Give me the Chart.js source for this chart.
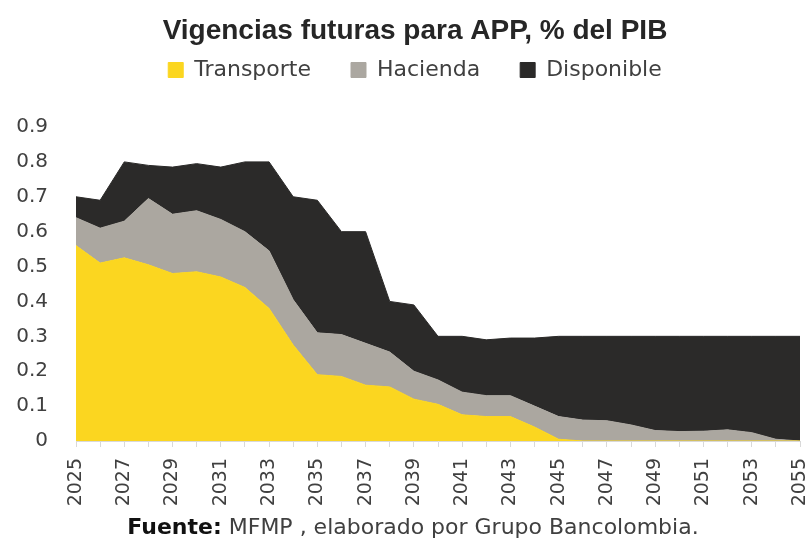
<!DOCTYPE html>
<html lang="es">
<head>
<meta charset="utf-8">
<title>Vigencias futuras para APP, % del PIB</title>
<script src="https://cdn.jsdelivr.net/npm/chart.js@4.4.1/dist/chart.umd.min.js"></script>
<style>
  html, body { margin: 0; padding: 0; background: #fff; }
  #wrap { width: 810px; height: 540px; }
</style>
</head>
<body>
<div id="wrap"><canvas id="appChart" width="810" height="540"></canvas></div>
<script>
const years = ["2025", "2026", "2027", "2028", "2029", "2030", "2031", "2032", "2033", "2034",
  "2035", "2036", "2037", "2038", "2039", "2040", "2041", "2042", "2043", "2044",
  "2045", "2046", "2047", "2048", "2049", "2050", "2051", "2052", "2053", "2054", "2055"];

// % del PIB
const transporte = [0.56, 0.51, 0.525, 0.505, 0.48, 0.485, 0.47, 0.44, 0.38, 0.275,
  0.19, 0.185, 0.16, 0.155, 0.12, 0.105, 0.075, 0.07, 0.07, 0.04,
  0.005, 0, 0, 0, 0, 0, 0, 0, 0, 0, 0];
const hacienda = [0.08, 0.10, 0.105, 0.19, 0.17, 0.175, 0.165, 0.16, 0.165, 0.13,
  0.12, 0.12, 0.12, 0.10, 0.08, 0.07, 0.065, 0.06, 0.06, 0.06,
  0.065, 0.06, 0.058, 0.046, 0.03, 0.027, 0.028, 0.032, 0.024, 0.005, 0];
const disponible = [0.06, 0.08, 0.17, 0.095, 0.135, 0.135, 0.15, 0.20, 0.255, 0.295,
  0.38, 0.295, 0.32, 0.145, 0.19, 0.125, 0.16, 0.16, 0.165, 0.195,
  0.23, 0.24, 0.242, 0.254, 0.27, 0.273, 0.272, 0.268, 0.276, 0.295, 0.30];

const yTicks = [0, 0.1, 0.2, 0.3, 0.4, 0.5, 0.6, 0.7, 0.8, 0.9];

const chartTitle = "Vigencias futuras para APP, % del PIB";
const sourceLabel = "Fuente:";
const sourceText = " MFMP , elaborado por Grupo Bancolombia.";

const textColor = "#404040";
const axisFont = "'DejaVu Sans', 'Liberation Sans', sans-serif";

// draws the "Fuente:" line under the axis
const footerPlugin = {
  id: "footer",
  afterDraw(chart) {
    const ctx = chart.ctx;
    ctx.save();
    ctx.textBaseline = "alphabetic";
    ctx.textAlign = "left";
    ctx.font = "bold 22px " + axisFont;
    const w1 = ctx.measureText(sourceLabel).width;
    ctx.font = "22px " + axisFont;
    const w2 = ctx.measureText(sourceText).width;
    let x = 413 - (w1 + w2) / 2;
    ctx.font = "bold 22px " + axisFont;
    ctx.fillStyle = "#111";
    ctx.fillText(sourceLabel, x, 534);
    ctx.font = "22px " + axisFont;
    ctx.fillStyle = textColor;
    ctx.fillText(sourceText, x + w1, 534);
    ctx.restore();
  }
};

function area(label, data, color, fill) {
  return {
    label: label,
    data: data,
    backgroundColor: color,
    borderColor: color,
    borderWidth: 1,
    pointRadius: 0,
    pointHoverRadius: 0,
    tension: 0,
    fill: fill
  };
}

const ctx = document.getElementById("appChart").getContext("2d");
const appChart = new Chart(ctx, {
  type: "line",
  data: {
    labels: years,
    datasets: [
      area("Transporte", transporte, "#FBD620", "origin"),
      area("Hacienda", hacienda, "#ABA7A0", "-1"),
      area("Disponible", disponible, "#2B2A29", "-1")
    ]
  },
  options: {
    responsive: false,
    animation: false,
    // uneven padding pushes title and legend slightly right, as in the original
    layout: { padding: { left: 16, right: -4, top: 0, bottom: 0 } },
    plugins: {
      title: {
        display: true,
        text: chartTitle,
        color: "#262626",
        font: { family: "'Liberation Sans', Arial, sans-serif", size: 28, weight: "bold" },
        padding: { top: 14, bottom: -28.6 }
      },
      legend: {
        display: true,
        labels: {
          color: textColor,
          font: { family: axisFont, size: 22 },
          boxWidth: 15,
          boxHeight: 15,
          padding: 40
        }
      },
      tooltip: { enabled: false }
    },
    scales: {
      x: {
        type: "category",
        offset: false,
        grid: { display: true, drawOnChartArea: false, drawTicks: true, tickLength: 6, color: "#d9d9d9" },
        border: { display: true, color: "#d9d9d9" },
        ticks: {
          autoSkip: false,
          minRotation: 90,
          maxRotation: 90,
          padding: 11,
          color: textColor,
          font: { family: axisFont, size: 19 },
          callback: (val, i) => (i % 2 === 0 ? years[i] : "")
        },
        afterFit: (scale) => {
          scale.height = 99;
          scale.paddingLeft = 0;
          scale.paddingRight = 10;
        }
      },
      spacer: {
        type: "category",
        position: "top",
        display: true,
        grid: { display: false, drawTicks: false },
        border: { display: false },
        ticks: { display: false },
        afterFit: (scale) => { scale.height = 36; }
      },
      y: {
        stacked: true,
        min: 0,
        max: 0.9,
        grid: { display: false, drawTicks: false },
        border: { display: false },
        afterBuildTicks: (scale) => { scale.ticks = yTicks.map(v => ({ value: v })); },
        ticks: {
          padding: 28,
          color: textColor,
          font: { family: axisFont, size: 20 },
          callback: (v) => (v === 0 ? "0" : v.toFixed(1))
        },
        afterFit: (scale) => { scale.width = 60; }
      }
    }
  },
  plugins: [footerPlugin]
});
</script>
</body>
</html>
